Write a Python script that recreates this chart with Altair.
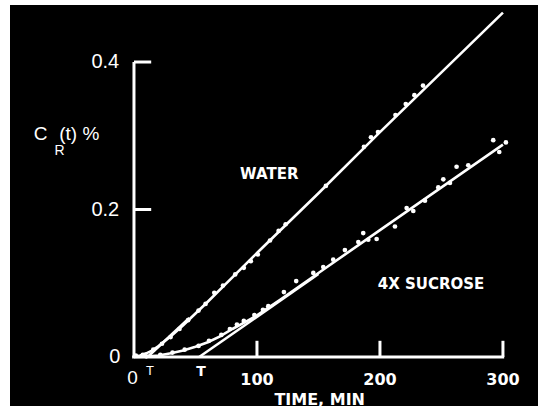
import altair as alt
import pandas as pd

# Fitted curves (time in minutes, concentration in %)
water_curve_t = [0, 5, 10, 15, 20, 30, 40, 50, 60, 80, 100, 150, 200, 250, 300]
water_curve_v = [0, 0.002, 0.005, 0.009, 0.015, 0.028, 0.043, 0.059, 0.075, 0.108, 0.141, 0.222, 0.305, 0.386, 0.467]
sucrose_curve_t = [0, 10, 20, 30, 40, 50, 60, 70, 80, 90, 100, 120, 150, 200, 250, 300]
sucrose_curve_v = [0, 0.0005, 0.002, 0.005, 0.009, 0.014, 0.020, 0.028, 0.038, 0.047, 0.0565, 0.079, 0.114, 0.172, 0.230, 0.288]

# Steady-state asymptotes starting at the lag times T
water_asym_t = [11, 45]
water_asym_v = [0, 0.053]
sucrose_asym_t = [53, 150]
sucrose_asym_v = [0, 0.1125]

# Measured points
water_pts_t = [1.5, 7.2, 15.7, 22.8, 29.8, 37, 44, 52.5, 58.2, 65.3, 72.4, 82.3, 89.3, 95,
               100.7, 110.6, 117.6, 123.3, 156, 187, 192.7, 198.4, 212.6, 221, 228, 235]
water_pts_v = [0.002, 0.003, 0.010, 0.018, 0.027, 0.038, 0.050, 0.063, 0.072, 0.087, 0.097,
               0.112, 0.121, 0.130, 0.139, 0.158, 0.171, 0.180, 0.232, 0.285, 0.298, 0.305,
               0.328, 0.343, 0.355, 0.368]
sucrose_pts_t = [10, 21.4, 31.3, 41.2, 52.5, 61, 71, 78, 83.7, 89.3, 97.9, 104.9, 109.2,
                 121.9, 131.9, 145.8, 153.9, 162, 171.5, 182.4, 186.4, 190.5, 197.3, 212.2,
                 221.7, 227.1, 236.6, 247.4, 251.5, 256.9, 262.3, 271.8, 292.1, 297, 302.4]
sucrose_pts_v = [0.001, 0.003, 0.006, 0.010, 0.015, 0.022, 0.030, 0.038, 0.044, 0.049,
                 0.057, 0.064, 0.069, 0.088, 0.103, 0.114, 0.122, 0.132, 0.145, 0.156, 0.168,
                 0.159, 0.160, 0.177, 0.202, 0.198, 0.212, 0.230, 0.241, 0.236, 0.258, 0.260,
                 0.294, 0.278, 0.291]

# Axis ticks and labels
y_ticks = [0.2, 0.4]
y_tick_labels = ["0.2", "0.4"]
x_ticks = [100, 200, 300]
x_tick_labels = ["100", "200", "300"]

X_DOM = [-100.8, 328.5]
Y_DOM = [-0.0664, 0.4773]
xs = alt.Scale(domain=X_DOM, nice=False, zero=False)
ys = alt.Scale(domain=Y_DOM, nice=False, zero=False)
WHITE = "#ffffff"


def xq(field):
    return alt.X(field, type="quantitative", scale=xs, axis=None)


def yq(field):
    return alt.Y(field, type="quantitative", scale=ys, axis=None)


def curve(ts, vs, name):
    return pd.DataFrame({"t": ts, "v": vs, "series": name})


def label_layer(rows, **style):
    df = pd.DataFrame(rows, columns=["t", "v", "label"])
    base = {"color": WHITE, "align": "center", "baseline": "middle"}
    base.update(style)
    return alt.Chart(df).mark_text(**base).encode(x=xq("t"), y=yq("v"), text="label:N")


curves = pd.concat([
    curve(water_curve_t, water_curve_v, "water"),
    curve(sucrose_curve_t, sucrose_curve_v, "sucrose"),
    curve(water_asym_t, water_asym_v, "water_asym"),
    curve(sucrose_asym_t, sucrose_asym_v, "sucrose_asym"),
])
points = pd.concat([
    curve(water_pts_t, water_pts_v, "water"),
    curve(sucrose_pts_t, sucrose_pts_v, "sucrose"),
])

line_layer = alt.Chart(curves).mark_line(color=WHITE, strokeWidth=2.6).encode(
    x=xq("t"), y=yq("v"), detail="series:N", order="t:Q"
)
point_layer = alt.Chart(points).mark_circle(color=WHITE, opacity=1, size=22).encode(
    x=xq("t"), y=yq("v")
)

# Axis lines and ticks drawn as rules in data space
TICK_T = 14       # length of y ticks, minutes
TICK_V = 0.022    # length of x ticks, %
axis_rows = [
    {"x": 0, "x2": 0, "y": 0, "y2": 0.4},
    {"x": -1.5, "x2": 301, "y": 0, "y2": 0},
]
for v in y_ticks:
    axis_rows.append({"x": 0, "x2": TICK_T, "y": v, "y2": v})
for t in x_ticks:
    axis_rows.append({"x": t, "x2": t, "y": 0, "y2": TICK_V})
axis_layer = alt.Chart(pd.DataFrame(axis_rows)).mark_rule(color=WHITE, strokeWidth=3).encode(
    x=xq("x"), x2="x2:Q", y=yq("y"), y2="y2:Q"
)

THIN = {"font": "Liberation Sans", "fontWeight": "normal"}
BOLD = {"font": "DejaVu Sans", "fontWeight": "bold"}

ylab_layer = label_layer(
    [(-12, y_ticks[0], y_tick_labels[0]), (-12, y_ticks[1], y_tick_labels[1]), (-11, 0, "0")],
    fontSize=20, align="right", **THIN,
)
xlab_layer = label_layer([(t, -0.031, s) for t, s in zip(x_ticks, x_tick_labels)], fontSize=16, **BOLD)
origin_layer = label_layer([(-1.2, -0.028, "0")], fontSize=19, **THIN)
lag_w_layer = label_layer([(13, -0.019, "T")], fontSize=13, **THIN)
lag_s_layer = label_layer([(54.5, -0.02, "T")], fontSize=14, **BOLD)
xtitle_layer = label_layer([(151, -0.058, "TIME, MIN")], fontSize=16, **BOLD)
series_layer = label_layer([(110, 0.248, "WATER"), (241.5, 0.099, "4X SUCROSE")], fontSize=15, **BOLD)

# Y title: C with subscript R, then (t) %
ytitle_main_layer = label_layer([(-76, 0.302, "C"), (-44.5, 0.302, "(t) %")], fontSize=19, **THIN)
ytitle_sub_layer = label_layer([(-60.5, 0.279, "R")], fontSize=14, **THIN)

chart = alt.layer(
    axis_layer, line_layer, point_layer, ylab_layer, xlab_layer, origin_layer,
    lag_w_layer, lag_s_layer, xtitle_layer, series_layer, ytitle_main_layer, ytitle_sub_layer,
).properties(
    width=528, height=401,
    padding={"left": 10, "top": 5, "right": 8, "bottom": 8},
    autosize=alt.AutoSizeParams(type="none"),
    background="white",
).configure_view(fill="black", strokeWidth=0)

chart.save("out.html", embed_options={"renderer": "svg", "actions": False})
